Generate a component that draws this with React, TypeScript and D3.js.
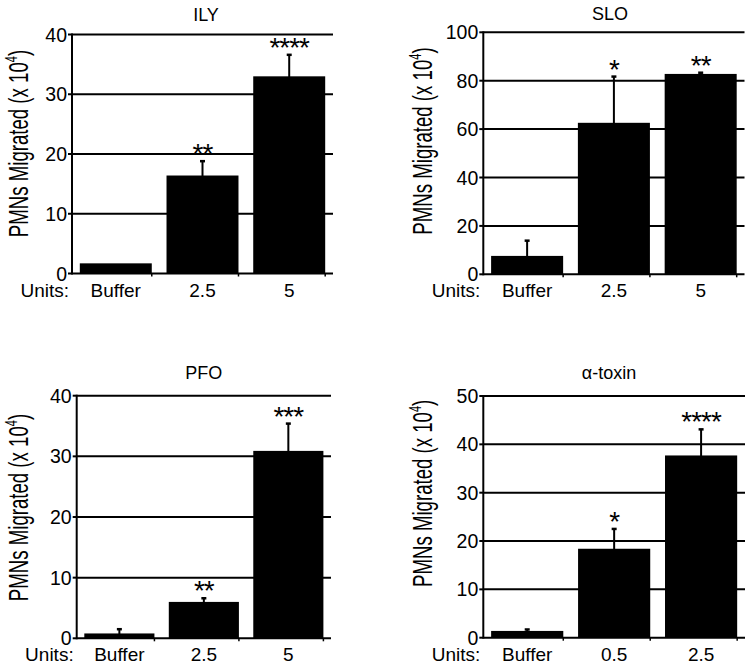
import React from "react";
import * as d3 from "d3";

// ---------- data ----------
const ilyCategories = ["Buffer", "2.5", "5"];
const ilyMeans = [1.7, 16.4, 33.0];
const ilyErrors = [0, 2.4, 3.6];
const ilyStars = ["", "**", "****"];

const sloCategories = ["Buffer", "2.5", "5"];
const sloMeans = [7.6, 62.6, 82.8];
const sloErrors = [6.3, 19.1, 0.5];
const sloStars = ["", "*", "**"];

const pfoCategories = ["Buffer", "2.5", "5"];
const pfoMeans = [0.8, 6.0, 30.9];
const pfoErrors = [0.7, 0.6, 4.5];
const pfoStars = ["", "**", "***"];

const atxCategories = ["Buffer", "0.5", "2.5"];
const atxMeans = [1.4, 18.4, 37.7];
const atxErrors = [0.3, 4.1, 5.4];
const atxStars = ["", "*", "****"];

const ilyTicks = [0, 10, 20, 30, 40];
const sloTicks = [0, 20, 40, 60, 80, 100];
const pfoTicks = [0, 10, 20, 30, 40];
const atxTicks = [0, 10, 20, 30, 40, 50];

// ---------- layout ----------
const FONT = "'Liberation Sans', Arial, Helvetica, sans-serif";

const panels = [
  {
    title: "ILY", cats: ilyCategories, means: ilyMeans, errs: ilyErrors, stars: ilyStars, ticks: ilyTicks,
    L: { x0: 72, x1: 333, yTop: 34.5, y0: 273.5, tx: 206, ty: 20.5, lx: 28, lcy: 143.5 },
  },
  {
    title: "SLO", cats: sloCategories, means: sloMeans, errs: sloErrors, stars: sloStars, ticks: sloTicks,
    L: { x0: 483.3, x1: 744.5, yTop: 32.3, y0: 274.3, tx: 610, ty: 19.5, lx: 431.7, lcy: 141 },
  },
  {
    title: "PFO", cats: pfoCategories, means: pfoMeans, errs: pfoErrors, stars: pfoStars, ticks: pfoTicks,
    L: { x0: 76.7, x1: 331, yTop: 395.7, y0: 638.3, tx: 203.7, ty: 379, lx: 28.3, lcy: 507.5 },
  },
  {
    title: "\u03b1-toxin", cats: atxCategories, means: atxMeans, errs: atxErrors, stars: atxStars, ticks: atxTicks,
    L: { x0: 483.3, x1: 745, yTop: 396, y0: 637.7, tx: 609, ty: 379, lx: 431.7, lcy: 493.3 },
  },
];

function Panel({ p }: { p: any }) {
  const L = p.L;
  const yMax = p.ticks[p.ticks.length - 1];
  const y = d3.scaleLinear().domain([0, yMax]).range([L.y0, L.yTop]);
  const x = d3
    .scaleBand<string>()
    .domain(p.cats)
    .range([L.x0, L.x1])
    .paddingInner(0.17)
    .paddingOuter(0.09);
  const bw = x.bandwidth();

  return (
    <g fontFamily={FONT} fill="#000">
      {/* title */}
      <text x={L.tx} y={L.ty} textAnchor="middle" fontSize={18}>
        {p.title}
      </text>

      {/* gridlines + left ticks + tick labels */}
      {p.ticks.map((t: number) => (
        <g key={t}>
          {t > 0 && (
            <line x1={L.x0} x2={L.x1} y1={y(t)} y2={y(t)} stroke="#000" strokeWidth={2} />
          )}
          <line x1={L.x0 - 4} x2={L.x0} y1={y(t)} y2={y(t)} stroke="#000" strokeWidth={2} />
          <text x={L.x0 - 5} y={y(t)} dy="0.36em" textAnchor="end" fontSize={19.5}>
            {t}
          </text>
        </g>
      ))}

      {/* bars */}
      {p.cats.map((c: string, i: number) => {
        const bx = x(c) as number;
        const cx = bx + bw / 2;
        const top = y(p.means[i]);
        const et = y(p.means[i] + p.errs[i]);
        return (
          <g key={c}>
            <rect x={bx} y={top} width={bw} height={L.y0 - top} fill="#000" />
            {p.errs[i] > 0 && (
              <g>
                <line x1={cx} x2={cx} y1={top + 2} y2={et} stroke="#000" strokeWidth={2} />
                <line x1={cx - 2.5} x2={cx + 2.5} y1={et} y2={et} stroke="#000" strokeWidth={2.5} />
              </g>
            )}
            {p.stars[i] && (
              <text x={cx} y={et + 2} textAnchor="middle" fontSize={28} letterSpacing={-1}>
                {p.stars[i]}
              </text>
            )}
            <text x={cx} y={L.y0 + 23} textAnchor="middle" fontSize={19}>
              {c}
            </text>
            <line x1={bx + bw} x2={bx + bw} y1={L.y0} y2={L.y0 + 3} stroke="#000" strokeWidth={1.5} />
          </g>
        );
      })}

      {/* axes */}
      <line x1={L.x0} x2={L.x0} y1={L.yTop - 1} y2={L.y0 + 1} stroke="#000" strokeWidth={2} />
      <line x1={L.x0} x2={L.x1} y1={L.y0} y2={L.y0} stroke="#000" strokeWidth={2} />

      {/* Units label */}
      <text x={L.x0 - 3} y={L.y0 + 23} textAnchor="end" fontSize={19}>
        Units:
      </text>

      {/* y label */}
      <g transform={`translate(${L.lx},${L.lcy}) rotate(-90) scale(0.69,1)`}>
        <text x={0} y={0} textAnchor="middle" fontSize={27}>
          PMNs Migrated (x 10
          <tspan fontSize={16} dy={-11}>4</tspan>
          <tspan dy={11}>)</tspan>
        </text>
      </g>
    </g>
  );
}

export default function App() {
  return (
    <svg
      width={750}
      height={669}
      viewBox="0 0 750 669"
      style={{ position: "absolute", left: 0, top: 0, background: "#fff" }}
    >
      <rect x={0} y={0} width={750} height={669} fill="#fff" />
      {panels.map((p) => (
        <Panel key={p.title} p={p} />
      ))}
    </svg>
  );
}
